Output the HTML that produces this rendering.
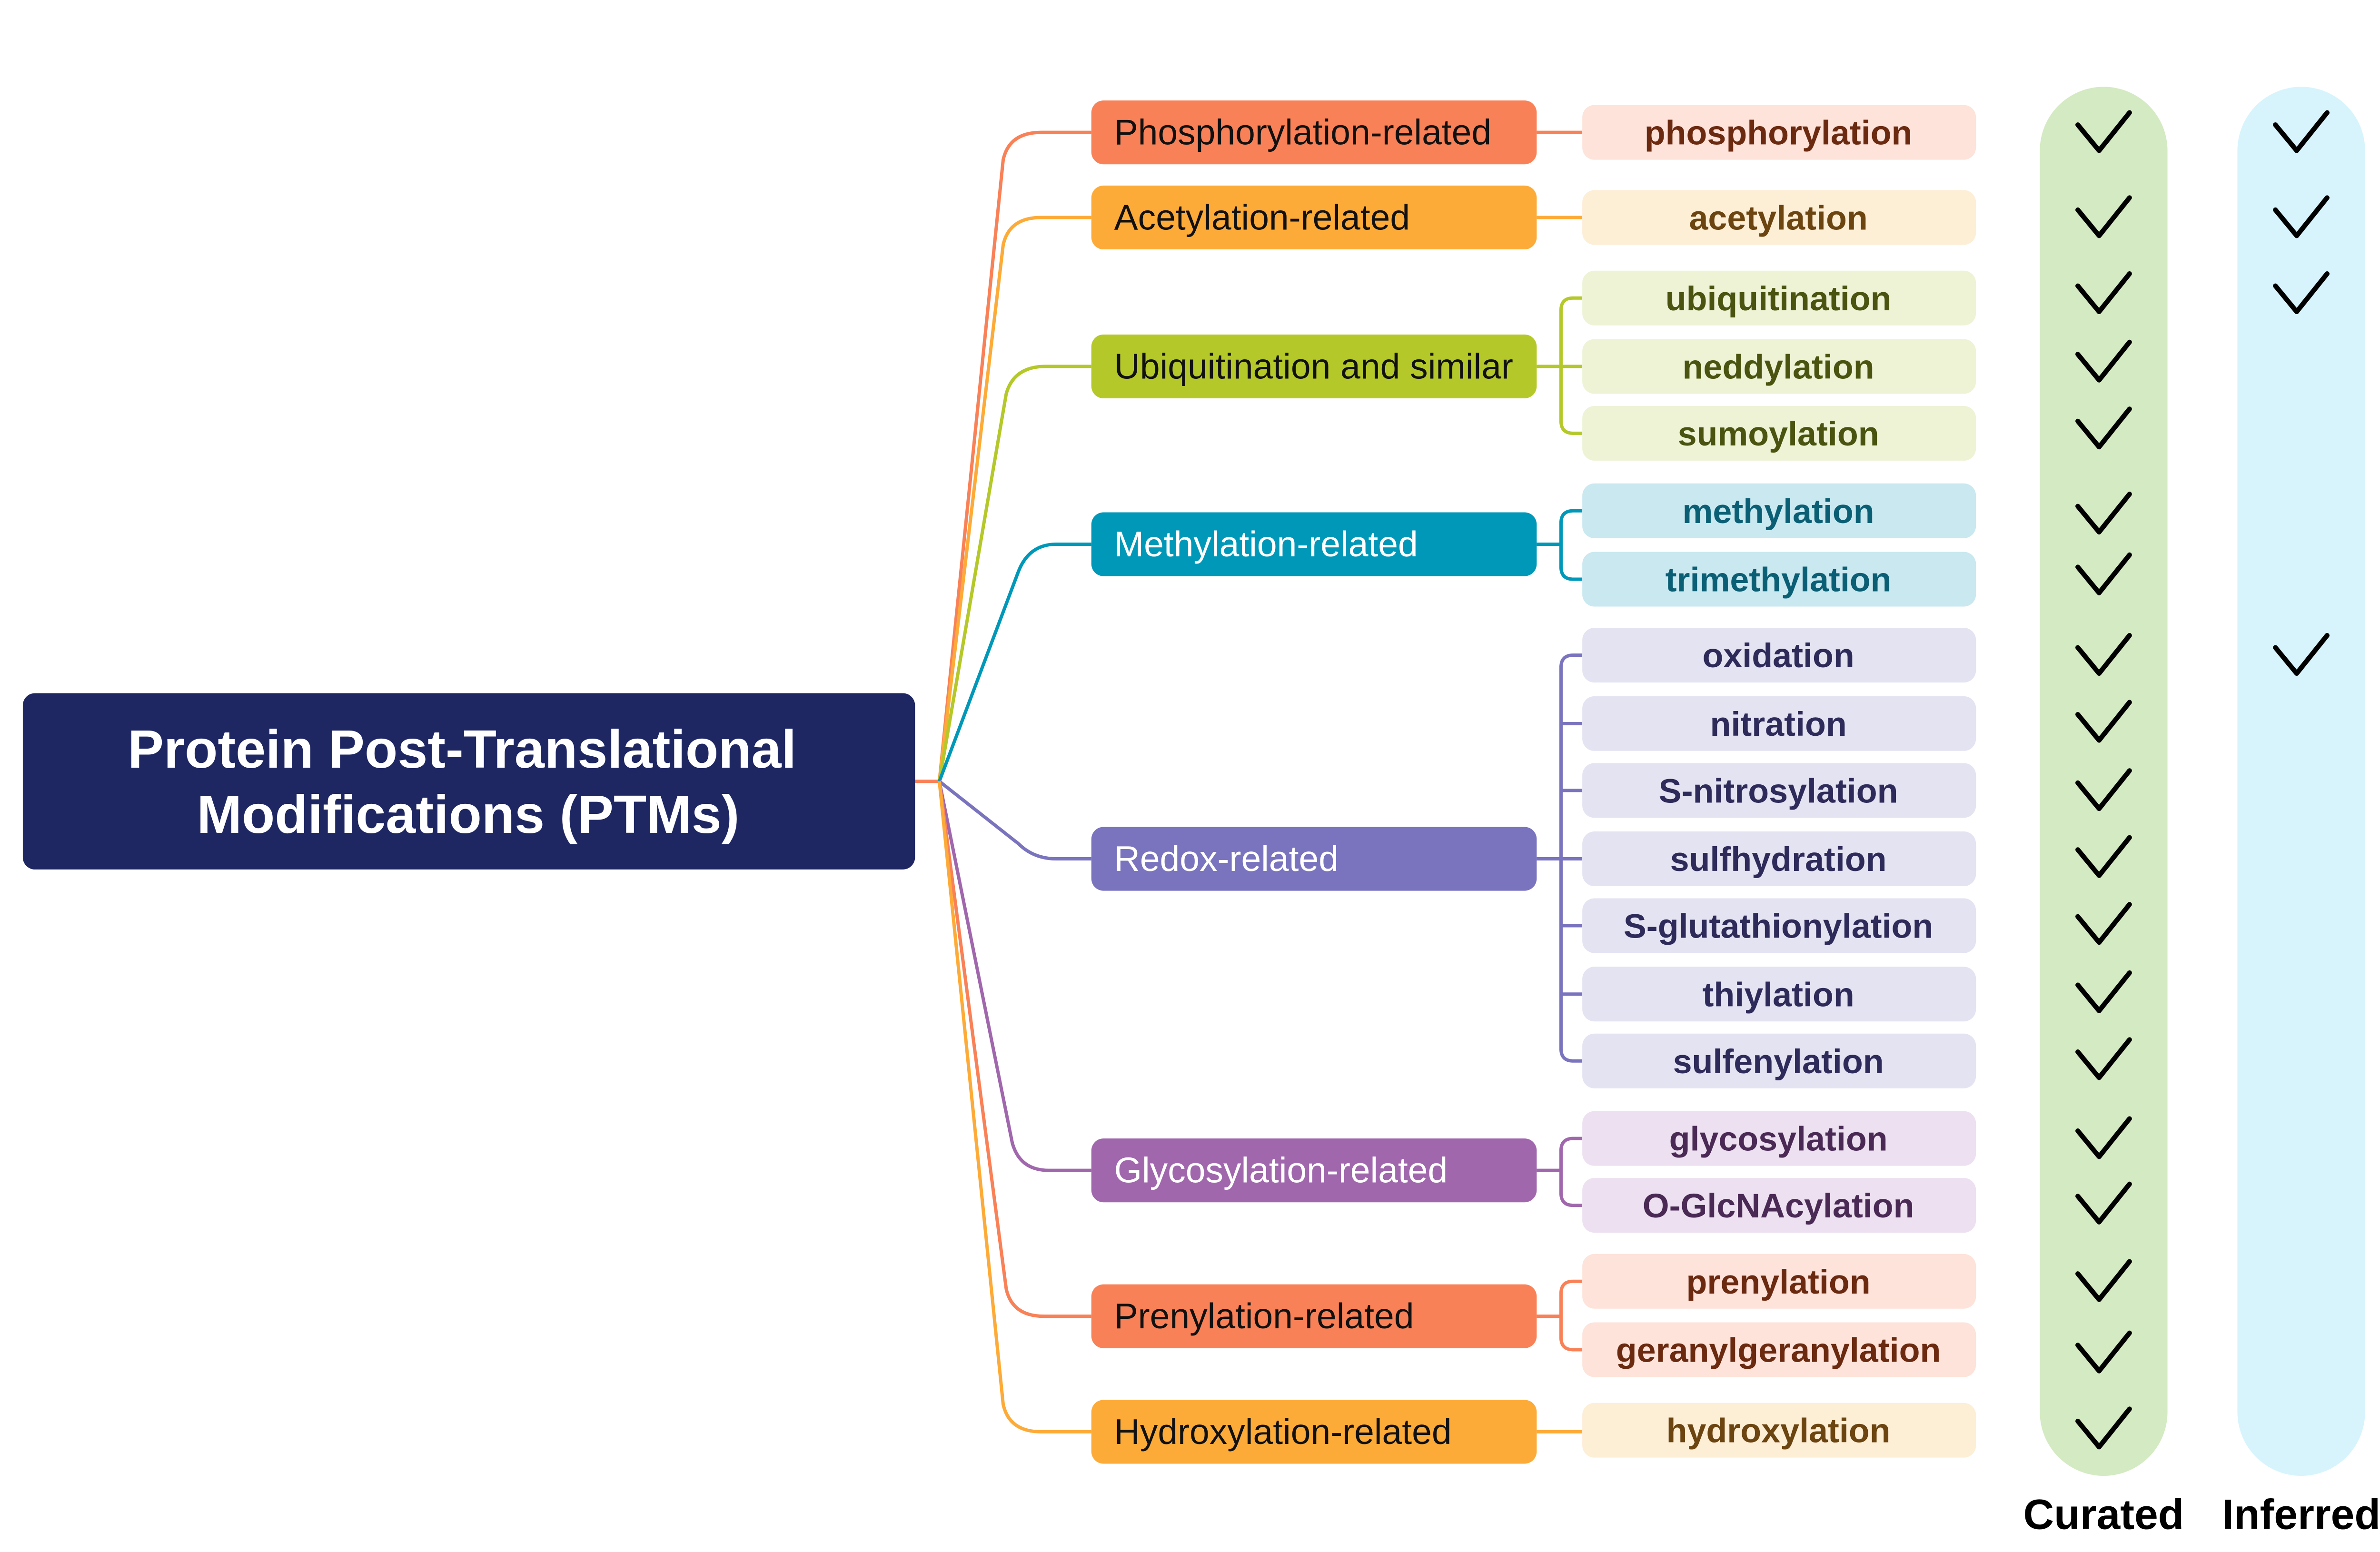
<!DOCTYPE html>
<html><head><meta charset="utf-8"><style>html,body{margin:0;padding:0;background:#fff}svg{display:block}</style></head>
<body>
<svg xmlns="http://www.w3.org/2000/svg" width="5007" height="3261" viewBox="0 0 1568 1021">
<rect width="1568" height="1021" fill="#fff"/>
<rect x="1342" y="57" width="84" height="914" rx="42" fill="#d4eac2"/>
<rect x="1472" y="57" width="84" height="914" rx="42" fill="#d7f4fd"/>
<g fill="none" stroke-width="2.2">
<path d="M602 514 L618 514" stroke="#f98157"/>
<path d="M618 514 L660 105 Q664 87 685 87 L718 87" stroke="#f98157"/>
<path d="M618 514 L660 161 Q664 143 685 143 L718 143" stroke="#fdab38"/>
<path d="M618 514 L662 259 Q667 241 688 241 L718 241" stroke="#b5c829"/>
<path d="M618 514 L670 376 Q677 358 695 358 L718 358" stroke="#0098b8"/>
<path d="M618 514 L670 555 Q680 565 695 565 L718 565" stroke="#7a74bf"/>
<path d="M618 514 L666 752 Q671 770 690 770 L718 770" stroke="#a067ad"/>
<path d="M618 514 L662 848 Q666 866 687 866 L718 866" stroke="#f98157"/>
<path d="M618 514 L660 924 Q664 942 685 942 L718 942" stroke="#fdab38"/>
<path d="M1011 87 L1041 87" stroke="#f98157"/>
<path d="M1011 143 L1041 143" stroke="#fdab38"/>
<path d="M1011 942 L1041 942" stroke="#fdab38"/>
<path d="M1011 241 L1041 241 M1041 196 L1035 196 Q1027 196 1027 204 L1027 277 Q1027 285 1035 285 L1041 285" stroke="#b5c829"/>
<path d="M1011 358 L1027 358 M1041 336 L1035 336 Q1027 336 1027 344 L1027 373 Q1027 381 1035 381 L1041 381" stroke="#0098b8"/>
<path d="M1011 565 L1041 565 M1041 431 L1035 431 Q1027 431 1027 439 L1027 690 Q1027 698 1035 698 L1041 698 M1027 476 L1041 476 M1027 520 L1041 520 M1027 609 L1041 609 M1027 654 L1041 654" stroke="#7a74bf"/>
<path d="M1011 770 L1027 770 M1041 749 L1035 749 Q1027 749 1027 757 L1027 785 Q1027 793 1035 793 L1041 793" stroke="#a067ad"/>
<path d="M1011 866 L1027 866 M1041 843 L1035 843 Q1027 843 1027 851 L1027 880 Q1027 888 1035 888 L1041 888" stroke="#f98157"/>
</g>
<rect x="15" y="456" width="587" height="116" rx="8" fill="#1f2763"/>
<g font-family="Liberation Sans, sans-serif" font-weight="bold" font-size="35.5" fill="#fff" text-anchor="middle">
<text x="304" y="505">Protein Post-Translational</text>
<text x="308" y="548">Modifications (PTMs)</text>
</g>
<g font-family="Liberation Sans, sans-serif" font-size="23.5">
<rect x="718" y="66" width="293" height="42" rx="8" fill="#f98157"/><text x="733" y="95" fill="#111">Phosphorylation-related</text>
<rect x="718" y="122" width="293" height="42" rx="8" fill="#fdab38"/><text x="733" y="151" fill="#111">Acetylation-related</text>
<rect x="718" y="220" width="293" height="42" rx="8" fill="#b5c829"/><text x="733" y="249" fill="#111">Ubiquitination and similar</text>
<rect x="718" y="337" width="293" height="42" rx="8" fill="#0098b8"/><text x="733" y="366" fill="#fff">Methylation-related</text>
<rect x="718" y="544" width="293" height="42" rx="8" fill="#7a74bf"/><text x="733" y="573" fill="#fff">Redox-related</text>
<rect x="718" y="749" width="293" height="42" rx="8" fill="#a067ad"/><text x="733" y="778" fill="#fff">Glycosylation-related</text>
<rect x="718" y="845" width="293" height="42" rx="8" fill="#f98157"/><text x="733" y="874" fill="#111">Prenylation-related</text>
<rect x="718" y="921" width="293" height="42" rx="8" fill="#fdab38"/><text x="733" y="950" fill="#111">Hydroxylation-related</text>
</g>
<g font-family="Liberation Sans, sans-serif" font-size="22.5" font-weight="bold" text-anchor="middle">
<rect x="1041" y="69" width="259" height="36" rx="8" fill="#fde3da"/><text x="1170" y="95" fill="#6b2a10">phosphorylation</text>
<rect x="1041" y="125" width="259" height="36" rx="8" fill="#fdeed6"/><text x="1170" y="151" fill="#6b4410">acetylation</text>
<rect x="1041" y="178" width="259" height="36" rx="8" fill="#eef3d6"/><text x="1170" y="204" fill="#4a5410">ubiquitination</text>
<rect x="1041" y="223" width="259" height="36" rx="8" fill="#eef3d6"/><text x="1170" y="249" fill="#4a5410">neddylation</text>
<rect x="1041" y="267" width="259" height="36" rx="8" fill="#eef3d6"/><text x="1170" y="293" fill="#4a5410">sumoylation</text>
<rect x="1041" y="318" width="259" height="36" rx="8" fill="#c9e8f0"/><text x="1170" y="344" fill="#0b5f75">methylation</text>
<rect x="1041" y="363" width="259" height="36" rx="8" fill="#c9e8f0"/><text x="1170" y="389" fill="#0b5f75">trimethylation</text>
<g fill="#e4e3f2">
<rect x="1041" y="413" width="259" height="36" rx="8"/><rect x="1041" y="458" width="259" height="36" rx="8"/><rect x="1041" y="502" width="259" height="36" rx="8"/><rect x="1041" y="547" width="259" height="36" rx="8"/><rect x="1041" y="591" width="259" height="36" rx="8"/><rect x="1041" y="636" width="259" height="36" rx="8"/><rect x="1041" y="680" width="259" height="36" rx="8"/>
</g>
<g fill="#2e2b5a">
<text x="1170" y="439">oxidation</text><text x="1170" y="484">nitration</text><text x="1170" y="528">S-nitrosylation</text><text x="1170" y="573">sulfhydration</text><text x="1170" y="617">S-glutathionylation</text><text x="1170" y="662">thiylation</text><text x="1170" y="706">sulfenylation</text>
</g>
<rect x="1041" y="731" width="259" height="36" rx="8" fill="#ede0f0"/><text x="1170" y="757" fill="#4a2a55">glycosylation</text>
<rect x="1041" y="775" width="259" height="36" rx="8" fill="#ede0f0"/><text x="1170" y="801" fill="#4a2a55">O-GlcNAcylation</text>
<rect x="1041" y="825" width="259" height="36" rx="8" fill="#fde3da"/><text x="1170" y="851" fill="#6b2a10">prenylation</text>
<rect x="1041" y="870" width="259" height="36" rx="8" fill="#fde3da"/><text x="1170" y="896" fill="#6b2a10">geranylgeranylation</text>
<rect x="1041" y="923" width="259" height="36" rx="8" fill="#fdeed6"/><text x="1170" y="949" fill="#6b4410">hydroxylation</text>
</g>
<defs><path id="ck" d="M-17 -5 L-3 12 L17 -13" fill="none" stroke="#000" stroke-width="3.2" stroke-linecap="round" stroke-linejoin="round"/></defs>
<g transform="translate(1384 0)">
<use href="#ck" y="87"/><use href="#ck" y="143"/><use href="#ck" y="193"/><use href="#ck" y="238"/><use href="#ck" y="282"/><use href="#ck" y="338"/><use href="#ck" y="378"/><use href="#ck" y="431"/><use href="#ck" y="475"/><use href="#ck" y="520"/><use href="#ck" y="564"/><use href="#ck" y="608"/><use href="#ck" y="653"/><use href="#ck" y="697"/><use href="#ck" y="749"/><use href="#ck" y="792"/><use href="#ck" y="843"/><use href="#ck" y="890"/><use href="#ck" y="940"/>
</g>
<g transform="translate(1514 0)">
<use href="#ck" y="87"/><use href="#ck" y="143"/><use href="#ck" y="193"/><use href="#ck" y="431"/>
</g>
<g font-family="Liberation Sans, sans-serif" font-weight="bold" font-size="28" fill="#000" text-anchor="middle">
<text x="1384" y="1006">Curated</text><text x="1514" y="1006">Inferred</text>
</g>
</svg>
</body></html>
